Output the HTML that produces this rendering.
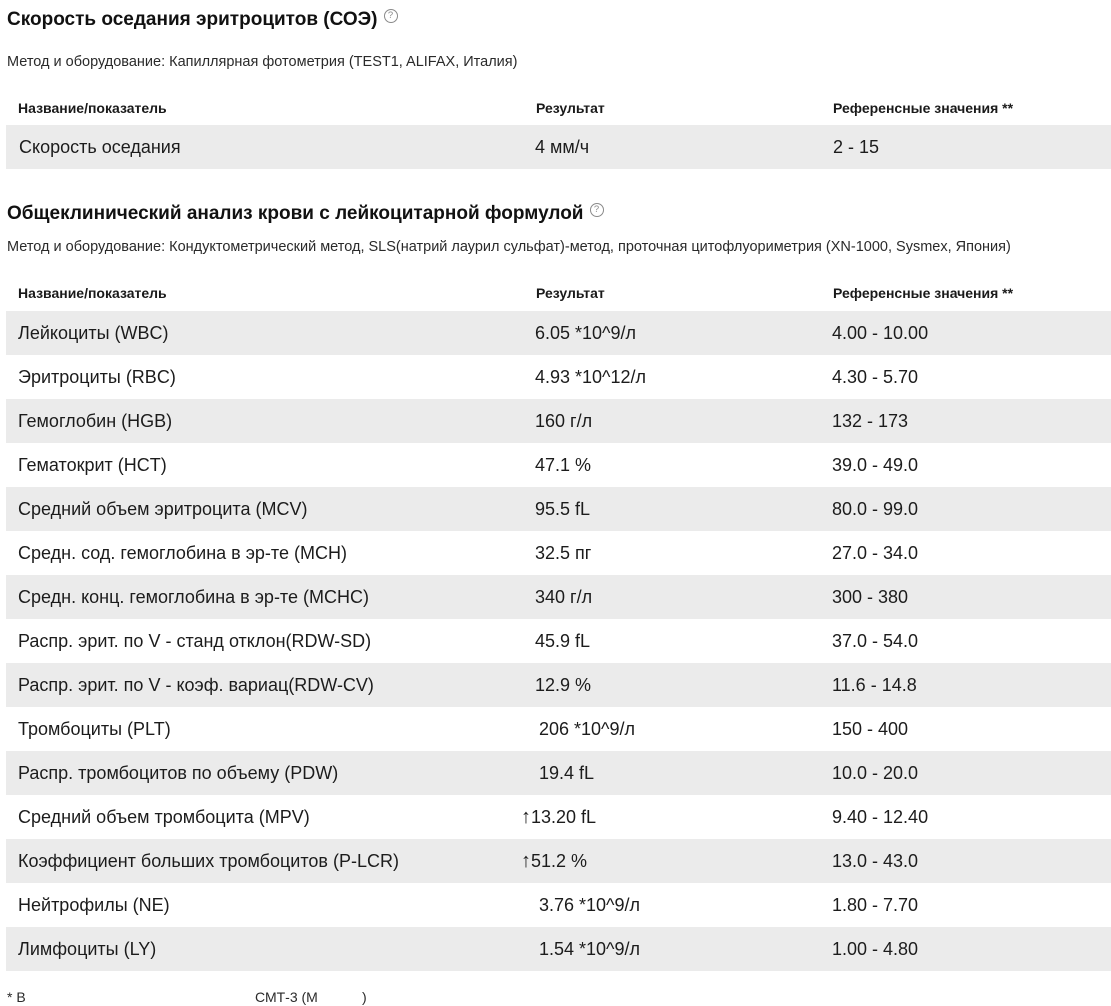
<!DOCTYPE html>
<html><head><meta charset="utf-8">
<style>
html,body{margin:0;padding:0;background:#fff;}
body{width:1111px;height:994px;overflow:hidden;position:relative;font-family:"Liberation Sans","DejaVu Sans",sans-serif;color:#1c1c1c;}
.t{position:absolute;white-space:nowrap;}
.title{font-weight:bold;font-size:19px;line-height:22px;color:#111;}
.meth{font-size:14.5px;line-height:18px;color:#2a2a2a;}
.hdr{font-weight:bold;font-size:14px;line-height:18px;color:#1a1a1a;}
.band{position:absolute;left:6px;width:1105px;height:44px;background:#ebebeb;}
.row{position:absolute;left:0;width:1111px;height:44px;line-height:44px;font-size:18px;}
.row span{position:absolute;top:0;white-space:nowrap;}
.ar{font-size:20px;}
.q{display:inline-block;width:12px;height:12px;border:1px solid #8a8a8a;border-radius:50%;font-size:9.5px;line-height:12px;text-align:center;color:#8a8a8a;font-weight:normal;vertical-align:top;margin-left:6px;margin-top:0px;}
</style></head><body>

<div class="t title" style="left:7px;top:9px;">Скорость оседания эритроцитов (СОЭ)<span class="q">?</span></div>
<div class="t meth" style="left:7px;top:53px;">Метод и оборудование: Капиллярная фотометрия (TEST1, ALIFAX, Италия)</div>
<div class="t hdr" style="left:18px;top:99px;">Название/показатель</div>
<div class="t hdr" style="left:536px;top:99px;">Результат</div>
<div class="t hdr" style="left:833px;top:99px;">Референсные значения **</div>

<div class="band" style="top:125px;"></div>
<div class="row" style="top:125px;"><span style="left:19px">Скорость оседания</span><span style="left:535px">4 мм/ч</span><span style="left:833px">2 - 15</span></div>

<div class="t title" style="left:7px;top:203px;">Общеклинический анализ крови с лейкоцитарной формулой<span class="q">?</span></div>
<div class="t meth" style="left:7px;top:238px;">Метод и оборудование: Кондуктометрический метод, SLS(натрий лаурил сульфат)-метод, проточная цитофлуориметрия (XN-1000, Sysmex, Япония)</div>
<div class="t hdr" style="left:18px;top:284px;">Название/показатель</div>
<div class="t hdr" style="left:536px;top:284px;">Результат</div>
<div class="t hdr" style="left:833px;top:284px;">Референсные значения **</div>

<div class="band" style="top:311px;"></div>
<div class="band" style="top:399px;"></div>
<div class="band" style="top:487px;"></div>
<div class="band" style="top:575px;"></div>
<div class="band" style="top:663px;"></div>
<div class="band" style="top:751px;"></div>
<div class="band" style="top:839px;"></div>
<div class="band" style="top:927px;"></div>

<div class="row" style="top:311px;"><span style="left:18px">Лейкоциты (WBC)</span><span style="left:535px">6.05 *10^9/л</span><span style="left:832px">4.00 - 10.00</span></div>
<div class="row" style="top:355px;"><span style="left:18px">Эритроциты (RBC)</span><span style="left:535px">4.93 *10^12/л</span><span style="left:832px">4.30 - 5.70</span></div>
<div class="row" style="top:399px;"><span style="left:18px">Гемоглобин (HGB)</span><span style="left:535px">160 г/л</span><span style="left:832px">132 - 173</span></div>
<div class="row" style="top:443px;"><span style="left:18px">Гематокрит (HCT)</span><span style="left:535px">47.1 %</span><span style="left:832px">39.0 - 49.0</span></div>
<div class="row" style="top:487px;"><span style="left:18px">Средний объем эритроцита (MCV)</span><span style="left:535px">95.5 fL</span><span style="left:832px">80.0 - 99.0</span></div>
<div class="row" style="top:531px;"><span style="left:18px">Средн. сод. гемоглобина в эр-те (MCH)</span><span style="left:535px">32.5 пг</span><span style="left:832px">27.0 - 34.0</span></div>
<div class="row" style="top:575px;"><span style="left:18px">Средн. конц. гемоглобина в эр-те (MCHC)</span><span style="left:535px">340 г/л</span><span style="left:832px">300 - 380</span></div>
<div class="row" style="top:619px;"><span style="left:18px">Распр. эрит. по V - станд отклон(RDW-SD)</span><span style="left:535px">45.9 fL</span><span style="left:832px">37.0 - 54.0</span></div>
<div class="row" style="top:663px;"><span style="left:18px">Распр. эрит. по V - коэф. вариац(RDW-CV)</span><span style="left:535px">12.9 %</span><span style="left:832px">11.6 - 14.8</span></div>
<div class="row" style="top:707px;"><span style="left:18px">Тромбоциты (PLT)</span><span style="left:539px">206 *10^9/л</span><span style="left:832px">150 - 400</span></div>
<div class="row" style="top:751px;"><span style="left:18px">Распр. тромбоцитов по объему (PDW)</span><span style="left:539px">19.4 fL</span><span style="left:832px">10.0 - 20.0</span></div>
<div class="row" style="top:795px;"><span style="left:18px">Средний объем тромбоцита (MPV)</span><span style="left:521px"><span class="ar" style="position:static">↑</span>13.20 fL</span><span style="left:832px">9.40 - 12.40</span></div>
<div class="row" style="top:839px;"><span style="left:18px">Коэффициент больших тромбоцитов (P-LCR)</span><span style="left:521px"><span class="ar" style="position:static">↑</span>51.2 %</span><span style="left:832px">13.0 - 43.0</span></div>
<div class="row" style="top:883px;"><span style="left:18px">Нейтрофилы (NE)</span><span style="left:539px">3.76 *10^9/л</span><span style="left:832px">1.80 - 7.70</span></div>
<div class="row" style="top:927px;"><span style="left:18px">Лимфоциты (LY)</span><span style="left:539px">1.54 *10^9/л</span><span style="left:832px">1.00 - 4.80</span></div>

<div class="t meth" style="left:7px;top:988px;font-size:14px;">* В</div>
<div class="t meth" style="left:255px;top:988px;font-size:14px;">СМТ-3 (М</div>
<div class="t meth" style="left:362px;top:988px;font-size:14px;">)</div>

</body></html>
